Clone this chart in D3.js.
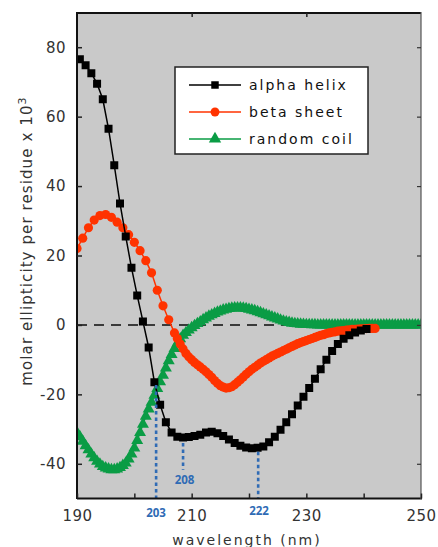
<!DOCTYPE html>
<html><head><meta charset="utf-8">
<script src="https://cdn.jsdelivr.net/npm/d3@7"></script>
<style>html,body{margin:0;padding:0;background:#fff;} svg{display:block;}</style>
</head><body>
<script>
// ---- data ----
const alphaWl = [190.5,191.5,192.5,193.5,194.5,195.5,196.5,197.5,198.5,199.5,200.5,201.5,202.5,203.5,204.5,205.5,206.5,207.5,208.5,209.5,210.5,211.5,212.5,213.5,214.5,215.5,216.5,217.5,218.5,219.5,220.5,221.5,222.5,223.5,224.5,225.5,226.5,227.5,228.5,229.5,230.5,231.5,232.5,233.5,234.5,235.5,236.5,237.5,238.5,239.5,240.5];
const alphaVal = [76.5,74.8,72.5,69.5,65,56.5,46,35,25.5,16.5,8.5,1,-6.5,-16.5,-23,-28,-31,-32.2,-32.4,-32.3,-32,-31.6,-31,-30.8,-31.2,-32,-33,-34,-34.8,-35.3,-35.5,-35.4,-35,-33.8,-32.2,-30.2,-28,-25.7,-23.2,-20.7,-18.2,-15.5,-12.8,-10,-7.5,-5.5,-4,-3,-2.2,-1.6,-1.2];
const betaWl = [190,191,192,193,194,195,196,197,198,199,200,201,202,203,204,205,206,207,207.5,208,208.5,209,209.5,210,210.5,211,211.5,212,212.5,213,213.5,214,214.5,215,215.5,216,216.5,217,217.5,218,218.5,219,219.5,220,220.5,221,221.5,222,222.5,223,223.5,224,224.5,225,225.5,226,226.5,227,227.5,228,228.5,229,229.5,230,230.5,231,231.5,232,232.5,233,233.5,234,234.5,235,235.5,236,236.5,237,237.5,238,238.5,239,239.5,240,240.5,241,241.5,242];
const betaVal = [22,25,28,30.2,31.5,31.8,31,29.6,28,26,23.8,21.4,18.5,15,10,5.5,1.5,-2.3,-3.9,-5.5,-6.9,-8.2,-9.2,-10,-10.8,-11.5,-12.1,-12.8,-13.5,-14.3,-15.1,-16,-16.8,-17.5,-17.9,-18.2,-18.1,-17.8,-17.2,-16.5,-15.8,-15,-14.2,-13.5,-12.8,-12.2,-11.6,-11,-10.5,-10,-9.5,-9,-8.6,-8.2,-7.8,-7.4,-7,-6.6,-6.2,-5.8,-5.4,-5.1,-4.8,-4.5,-4.2,-3.9,-3.6,-3.3,-3,-2.8,-2.5,-2.3,-2.1,-2,-1.8,-1.7,-1.6,-1.5,-1.4,-1.3,-1.25,-1.2,-1.15,-1.1,-1.05,-1,-1,-1];
const coilWl = [190,190.5,191,191.5,192,192.5,193,193.5,194,194.5,195,195.5,196,196.5,197,197.5,198,198.5,199,199.5,200,200.5,201,201.5,202,202.5,203,203.5,204,204.5,205,205.5,206,206.5,207,207.5,208,208.5,209,209.5,210,210.5,211,211.5,212,212.5,213,213.5,214,214.5,215,215.5,216,216.5,217,217.5,218,218.5,219,219.5,220,220.5,221,221.5,222,222.5,223,223.5,224,224.5,225,225.5,226,226.5,227,227.5,228,228.5,229,229.5,230,230.5,231,231.5,232,232.5,233,233.5,234,234.5,235,235.5,236,236.5,237,237.5,238,238.5,239,239.5,240,240.5,241,241.5,242,242.5,243,243.5,244,244.5,245,245.5,246,246.5,247,247.5,248,248.5,249,249.5,250];
const coilVal = [-31,-32.2,-33.5,-34.8,-36,-37.2,-38.3,-39.3,-40.1,-40.8,-41.2,-41.5,-41.7,-41.7,-41.5,-41.1,-40.5,-39.8,-38.6,-37.2,-35.5,-33.3,-31,-28.6,-26.3,-24.2,-22.3,-20.3,-18.3,-16.4,-14.5,-12.4,-10.3,-8.5,-6.8,-5.3,-4,-3,-2.2,-1.5,-0.8,-0.2,0.4,0.9,1.5,2,2.5,2.9,3.3,3.7,4,4.3,4.5,4.7,4.8,4.9,4.9,4.9,4.8,4.7,4.5,4.3,4.1,3.8,3.5,3.2,2.9,2.6,2.3,2,1.7,1.4,1.1,0.9,0.7,0.5,0.4,0.3,0.2,0.15,0.1,0.1,0.05,0.05,0,0,0,0,0,0,0,0,0,0,0,0,0,0,0,0,0,0,0,0,0,0,0,0,0,0,0,0,0,0,0,0,0,0,0,0,0];
const seriesNames = ["alpha helix","beta sheet","random coil"];
const xTicks = [190,200,210,220,230,240,250];
const xTickLabels = ["190","","210","","230","","250"];
const yTicks = [-40,-20,0,20,40,60,80];
const yTickLabels = ["-40","-20","0","20","40","60","80"];
const refLabels = ["203","208","222"];
const refWl = [203.8,208.5,221.6];
const refFrom = [-17.3,-34,-36.5];
const refTo = [-50,-41.7,-50];

// ---- drawing ----
const W = 438, H = 547;
const svg = d3.select("body").append("svg").attr("width", W).attr("height", H);
const x = d3.scaleLinear().domain([190,250]).range([77,421]);
const y = d3.scaleLinear().domain([-50,90]).range([498.5,12.5]);
const font = "'DejaVu Sans', sans-serif";
const txtCol = "#333";

svg.append("defs").append("clipPath").attr("id","pc").append("rect")
  .attr("x",77).attr("y",12.5).attr("width",344).attr("height",486);

svg.append("rect").attr("x",77).attr("y",12.5).attr("width",344).attr("height",486).attr("fill","#c9c9c9");

// zero dashed line
svg.append("line").attr("x1",x(190)).attr("x2",x(250)).attr("y1",y(0)).attr("y2",y(0))
  .attr("stroke","#3a3a3a").attr("stroke-width",2).attr("stroke-dasharray","10,7");

const plot = svg.append("g").attr("clip-path","url(#pc)");

function series(wl, val, color, shape, size, lw) {
  const pts = wl.map((w,i)=>[x(w), y(val[i])]);
  plot.append("path").attr("d", d3.line()(pts)).attr("fill","none").attr("stroke",color).attr("stroke-width",lw);
  const sym = d3.symbol().type(shape).size(size);
  plot.append("g").selectAll("path").data(pts).join("path")
    .attr("d", sym).attr("transform", d=>`translate(${d[0]},${d[1]})`).attr("fill",color);
}
series(coilWl, coilVal, "#0a9c45", d3.symbolTriangle, 62, 1.5);
series(betaWl, betaVal, "#ff3300", d3.symbolCircle, 66, 1.5);
series(alphaWl, alphaVal, "#000", d3.symbolSquare, 64, 1.5);

// reference dotted lines
refWl.forEach((w,i)=>{
  svg.append("line").attr("x1",x(w)).attr("x2",x(w)).attr("y1",y(refFrom[i])).attr("y2",y(refTo[i]))
    .attr("stroke","#2f6bb5").attr("stroke-width",2.6).attr("stroke-dasharray","3.5,3");
});
const refLabelPos = [[156,517],[184.5,484],[259,515]];
refLabels.forEach((t,i)=>{
  svg.append("text").attr("x",refLabelPos[i][0]).attr("y",refLabelPos[i][1]).attr("text-anchor","middle")
    .attr("font-family","'Open Sans', 'DejaVu Sans', sans-serif").attr("font-weight","bold").attr("font-size",11.5)
    .attr("fill","#2f6bb5").text(t);
});

// frame
svg.append("line").attr("x1",77).attr("x2",421).attr("y1",13).attr("y2",13).attr("stroke","#111").attr("stroke-width",2);
svg.append("line").attr("x1",77).attr("x2",77).attr("y1",12).attr("y2",499).attr("stroke","#111").attr("stroke-width",2);
svg.append("line").attr("x1",77).attr("x2",422).attr("y1",498.5).attr("y2",498.5).attr("stroke","#111").attr("stroke-width",2);
svg.append("line").attr("x1",421).attr("x2",421).attr("y1",12).attr("y2",499).attr("stroke","#555").attr("stroke-width",1.2);

// x axis
const xAxis = d3.axisBottom(x).tickValues(xTicks).tickSize(-5).tickPadding(12)
  .tickFormat((d,i)=>xTickLabels[i]);
const gx = svg.append("g").attr("transform","translate(0,498.5)").call(xAxis);
gx.select(".domain").remove();
gx.selectAll(".tick line").attr("stroke","#222").attr("stroke-width",1.5);
gx.selectAll(".tick text").attr("font-family",font).attr("font-size",15).attr("fill",txtCol).attr("letter-spacing","0.5px");
// top ticks
const gt = svg.append("g").attr("transform","translate(0,13)")
  .call(d3.axisTop(x).tickValues([210,230]).tickSize(-4).tickFormat(""));
gt.select(".domain").remove();
gt.selectAll(".tick line").attr("stroke","#222").attr("stroke-width",1.5);

// y axis
const yAxis = d3.axisLeft(y).tickValues(yTicks).tickSize(-5).tickPadding(11)
  .tickFormat((d,i)=>yTickLabels[i]);
const gy = svg.append("g").attr("transform","translate(77,0)").call(yAxis);
gy.select(".domain").remove();
gy.selectAll(".tick line").attr("stroke","#222").attr("stroke-width",1.5);
gy.selectAll(".tick text").attr("font-family",font).attr("font-size",15).attr("fill",txtCol).attr("letter-spacing","0.5px");
const gr = svg.append("g").attr("transform","translate(421,0)")
  .call(d3.axisRight(y).tickValues(yTicks).tickSize(-4).tickFormat(""));
gr.select(".domain").remove();
gr.selectAll(".tick line").attr("stroke","#333").attr("stroke-width",1.2);

// axis titles
svg.append("text").attr("x",247).attr("y",545).attr("text-anchor","middle")
  .attr("font-family",font).attr("font-size",14).attr("fill",txtCol).attr("letter-spacing","2px")
  .text("wavelength (nm)");
const yl = svg.append("text").attr("transform","translate(32,241) rotate(-90)").attr("text-anchor","middle")
  .attr("font-family",font).attr("font-size",15).attr("fill",txtCol).attr("letter-spacing","1.1px");
yl.append("tspan").text("molar ellipticity per residue x 10");
yl.append("tspan").attr("dy",-6).attr("font-size",11).text("3");

// legend
const lg = svg.append("g");
lg.append("rect").attr("x",175).attr("y",67).attr("width",193).attr("height",87)
  .attr("fill","#fff").attr("stroke","#222").attr("stroke-width",1.5);
const legColors = ["#000","#ff3300","#0a9c45"];
const legShapes = [d3.symbolSquare, d3.symbolCircle, d3.symbolTriangle];
const legSizes = [56,62,66];
seriesNames.forEach((n,i)=>{
  const yy = 85 + i*27;
  lg.append("line").attr("x1",189).attr("x2",241).attr("y1",yy).attr("y2",yy).attr("stroke",legColors[i]).attr("stroke-width",1.5);
  lg.append("path").attr("d", d3.symbol().type(legShapes[i]).size(legSizes[i])()).attr("transform",`translate(215,${yy})`).attr("fill",legColors[i]);
  lg.append("text").attr("x",249).attr("y",yy+5).attr("font-family",font).attr("font-size",14)
    .attr("fill","#111").attr("letter-spacing","2px").text(n);
});
</script>
</body></html>
